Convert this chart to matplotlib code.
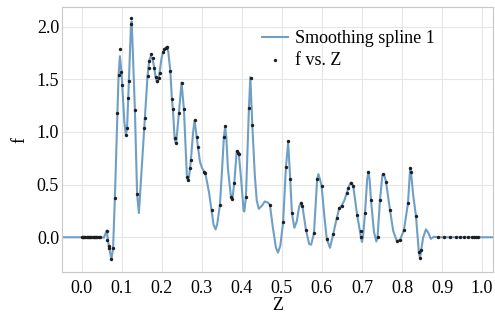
import matplotlib
matplotlib.use("Agg")
import matplotlib.pyplot as plt

plt.rcParams['font.family'] = ['Liberation Serif', 'DejaVu Serif']

# Scatter data: f vs. Z
z_pts = [0.0, 0.003, 0.006, 0.009, 0.012, 0.015, 0.018, 0.021, 0.024, 0.027,
         0.030, 0.033, 0.036, 0.039, 0.042, 0.045, 0.062, 0.064, 0.067, 0.069,
         0.074, 0.078, 0.0825, 0.089, 0.0917, 0.095, 0.099, 0.1008, 0.110, 0.113,
         0.116, 0.1175, 0.1225, 0.124, 0.1325, 0.138, 0.156, 0.1575, 0.164, 0.1667,
         0.168, 0.1717, 0.1767, 0.181, 0.184, 0.1875, 0.1917, 0.194, 0.203, 0.206,
         0.209, 0.2125, 0.221, 0.225, 0.2275, 0.2317, 0.236, 0.2425, 0.249, 0.255,
         0.2625, 0.266, 0.271, 0.2725, 0.2817, 0.2867, 0.290, 0.306, 0.308, 0.324,
         0.345, 0.355, 0.358, 0.3725, 0.376, 0.381, 0.387, 0.389, 0.3925, 0.410,
         0.4175, 0.4217, 0.426, 0.470, 0.503, 0.510, 0.516, 0.520, 0.525, 0.547,
         0.551, 0.560, 0.580, 0.588, 0.599, 0.612, 0.628, 0.637, 0.643, 0.649,
         0.662, 0.665, 0.672, 0.678, 0.688, 0.697, 0.6985, 0.7075, 0.716, 0.7225,
         0.739, 0.745, 0.753, 0.760, 0.770, 0.787, 0.795, 0.805, 0.815, 0.821,
         0.8225, 0.835, 0.842, 0.844, 0.848, 0.89, 0.905, 0.92, 0.935, 0.945,
         0.955, 0.965, 0.975, 0.98, 0.985, 0.99]
f_pts = [0.0, 0.0, 0.0, 0.0, 0.0, 0.0, 0.0, 0.0, 0.0, 0.0,
         0.0, 0.0, 0.0, 0.0, 0.0, 0.0, 0.06, -0.03, -0.08, -0.105,
         -0.21, -0.105, 0.376, 1.18, 1.54, 1.785, 1.57, 1.45, 0.97, 1.04,
         1.32, 1.485, 2.025, 2.08, 1.21, 0.41, 1.035, 1.13, 1.53, 1.605,
         1.67, 1.74, 1.70, 1.61, 1.525, 1.48, 1.515, 1.56, 1.76, 1.785,
         1.80, 1.807, 1.58, 1.31, 1.215, 0.946, 0.90, 1.18, 1.47, 1.215,
         0.575, 0.544, 0.655, 0.734, 1.114, 0.955, 0.86, 0.623, 0.614, 0.26,
         0.307, 0.955, 1.057, 0.386, 0.36, 0.52, 0.82, 0.80, 0.79, 0.386,
         1.23, 1.51, 1.064, 0.307, 0.148, 0.67, 0.915, 0.554, 0.228, 0.33,
         0.30, 0.069, 0.038, 0.554, 0.49, -0.016, 0.028, 0.18, 0.275, 0.30,
         0.42, 0.465, 0.52, 0.49, 0.21, 0.06, 0.0, 0.228, 0.623, 0.354,
         0.006, 0.354, 0.598, 0.528, 0.26, -0.035, -0.026, 0.069, 0.325, 0.655,
         0.62, 0.2, -0.137, -0.2, -0.12, 0.0, 0.0, 0.0, 0.0, 0.0,
         0.0, 0.0, 0.0, 0.0, 0.0, 0.0]

# Smoothing spline curve
z_curve = [-0.05, 0.05, 0.055, 0.062, 0.067, 0.074, 0.078, 0.0825, 0.089, 0.0917,
           0.095, 0.099, 0.1008, 0.106, 0.110, 0.113, 0.116, 0.1175, 0.1225, 0.1245,
           0.127, 0.1325, 0.138, 0.1425, 0.147, 0.156, 0.1575, 0.164, 0.168, 0.172,
           0.1767, 0.181, 0.184, 0.188, 0.1917, 0.194, 0.199, 0.203, 0.209, 0.213,
           0.216, 0.221, 0.225, 0.2275, 0.2317, 0.234, 0.236, 0.2425, 0.249, 0.255,
           0.2625, 0.265, 0.268, 0.2725, 0.278, 0.2817, 0.2867, 0.290, 0.295, 0.300,
           0.306, 0.310, 0.318, 0.324, 0.329, 0.334, 0.338, 0.345, 0.350, 0.355,
           0.358, 0.361, 0.365, 0.3725, 0.376, 0.381, 0.387, 0.390, 0.3925, 0.398,
           0.404, 0.406, 0.410, 0.4175, 0.421, 0.426, 0.432, 0.437, 0.442, 0.450,
           0.457, 0.465, 0.470, 0.477, 0.485, 0.490, 0.496, 0.503, 0.510, 0.5155,
           0.520, 0.525, 0.531, 0.537, 0.543, 0.548, 0.551, 0.560, 0.568, 0.573,
           0.580, 0.588, 0.591, 0.595, 0.599, 0.606, 0.612, 0.620, 0.628, 0.637,
           0.643, 0.649, 0.656, 0.662, 0.667, 0.672, 0.678, 0.688, 0.6975, 0.700,
           0.703, 0.7075, 0.713, 0.716, 0.719, 0.7225, 0.730, 0.736, 0.739, 0.745,
           0.751, 0.755, 0.760, 0.770, 0.778, 0.787, 0.795, 0.805, 0.815, 0.8205,
           0.8225, 0.828, 0.835, 0.842, 0.845, 0.848, 0.853, 0.860, 0.866, 0.872,
           0.880, 0.890, 1.05]
f_curve = [0.0, 0.0, -0.005, 0.065, -0.08, -0.21, -0.10, 0.376, 1.18, 1.54,
           1.72, 1.57, 1.45, 1.10, 0.97, 1.04, 1.32, 1.485, 2.00, 2.05,
           1.80, 1.21, 0.41, 0.23, 0.50, 1.035, 1.13, 1.53, 1.67, 1.72,
           1.69, 1.61, 1.525, 1.47, 1.51, 1.56, 1.70, 1.76, 1.80, 1.81,
           1.76, 1.58, 1.31, 1.215, 0.946, 0.90, 0.91, 1.18, 1.47, 1.215,
           0.575, 0.54, 0.58, 0.734, 1.00, 1.11, 0.955, 0.86, 0.72, 0.66,
           0.62, 0.58, 0.42, 0.26, 0.12, 0.075, 0.12, 0.307, 0.62, 0.955,
           1.05, 0.95, 0.65, 0.386, 0.36, 0.52, 0.82, 0.80, 0.78, 0.55,
           0.26, 0.245, 0.386, 1.23, 1.52, 1.064, 0.60, 0.35, 0.27, 0.30,
           0.34, 0.33, 0.307, 0.10, -0.10, -0.145, -0.08, 0.148, 0.67, 0.90,
           0.60, 0.228, 0.09, 0.15, 0.29, 0.33, 0.30, 0.069, -0.065, -0.07,
           0.038, 0.554, 0.60, 0.55, 0.49, 0.20, -0.016, -0.10, 0.028, 0.18,
           0.275, 0.30, 0.35, 0.42, 0.48, 0.52, 0.49, 0.21, 0.0, -0.045,
           0.02, 0.228, 0.55, 0.62, 0.55, 0.354, 0.05, -0.04, 0.006, 0.354,
           0.59, 0.60, 0.528, 0.26, 0.06, -0.035, -0.026, 0.069, 0.325, 0.66,
           0.62, 0.40, 0.20, -0.137, -0.20, -0.12, 0.0, 0.076, 0.04, -0.015,
           0.005, 0.0, 0.0]

x_ticks = [0.0, 0.1, 0.2, 0.3, 0.4, 0.5, 0.6, 0.7, 0.8, 0.9, 1.0]
y_ticks = [0.0, 0.5, 1.0, 1.5, 2.0]

fig = plt.figure(figsize=(4.95, 3.2), dpi=100)
ax = fig.add_axes([0.125, 0.15, 0.871, 0.828])

ax.plot(z_curve, f_curve, color='#6f9fc4', lw=1.5, label='Smoothing spline 1', zorder=2)
ax.scatter(z_pts, f_pts, s=6, color='#1e1e1e', label='f vs. Z', zorder=3, linewidths=0)

ax.set_xlim(-0.05, 1.0275)
ax.set_ylim(-0.33, 2.187)
ax.set_xticks(x_ticks)
ax.set_yticks(y_ticks)
ax.set_xticklabels([f"{t:.1f}" for t in x_ticks])
ax.set_yticklabels([f"{t:.1f}" for t in y_ticks])
ax.tick_params(axis='both', length=0, labelsize=13)
ax.tick_params(axis='x', pad=6)
ax.tick_params(axis='y', pad=2)
ax.grid(True, color='#e6e6e6', lw=0.8)
ax.set_axisbelow(True)
for s in ax.spines.values():
    s.set_color('#c8c8c8')
    s.set_linewidth(0.8)

ax.set_xlabel('Z', fontsize=13, labelpad=0)
ax.set_ylabel('f', fontsize=13, labelpad=6)

leg = ax.legend(loc='upper left', bbox_to_anchor=(0.448, 0.941), frameon=False,
                fontsize=13, handlelength=1.45, handletextpad=0.35,
                borderaxespad=0.0, labelspacing=0.28, markerscale=1.0)

fig.savefig('out.png', dpi=100)
